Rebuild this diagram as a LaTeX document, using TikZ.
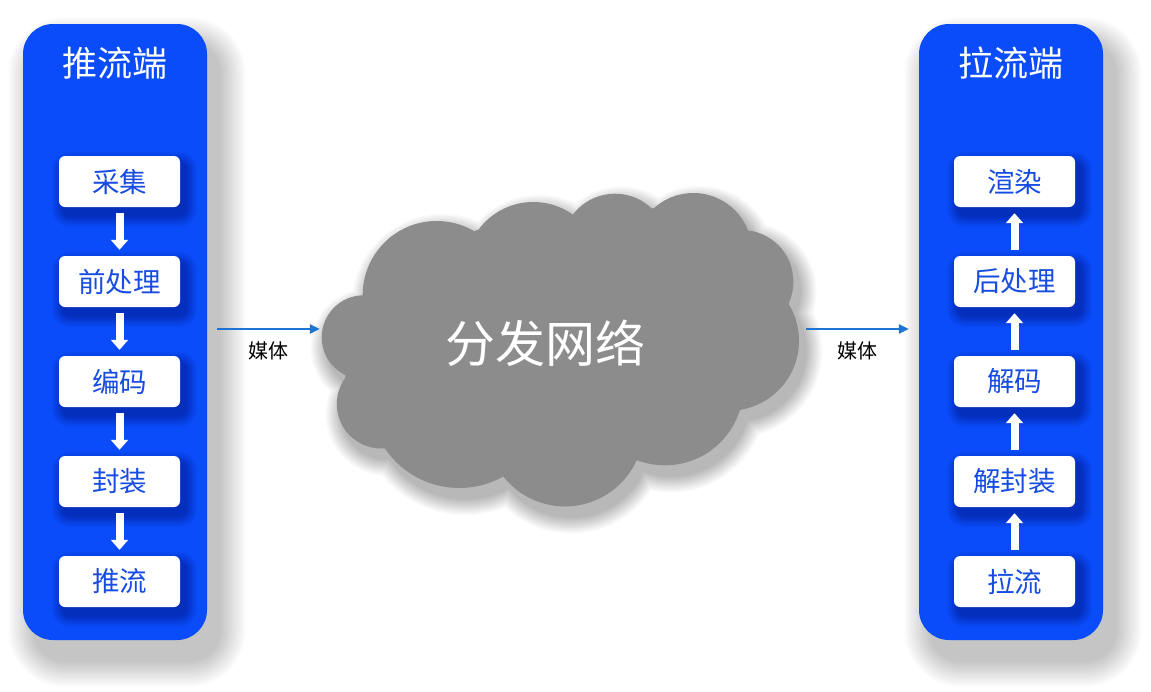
\documentclass[tikz,border=0pt]{standalone}
\usepackage{fontspec}
\newfontfamily\cjk{Noto Sans CJK SC}
\usetikzlibrary{arrows.meta}
\definecolor{panelblue}{RGB}{10,76,250}
\definecolor{boxtext}{RGB}{22,76,226}
\definecolor{shblue}{RGB}{0,22,140}
\definecolor{cloudgray}{RGB}{140,140,140}
\definecolor{mediablue}{RGB}{28,116,212}
\begin{document}
\begin{tikzpicture}[x=1pt,y=-1pt,
  panel/.style={rectangle, rounded corners=30pt, fill=panelblue, minimum width=184pt, minimum height=616pt, inner sep=0pt},
  stepbox/.style={rectangle, rounded corners=6pt, fill=white, minimum width=121pt, minimum height=51pt, inner sep=0pt, font=\cjk\fontsize{27.5}{30}\selectfont, text=boxtext},
  paneltitle/.style={font=\cjk\fontsize{35}{38}\selectfont, text=white},
  flow/.style={white, line width=8pt, -{Triangle[width=17pt,length=10pt]}},
  media/.style={mediablue, line width=2.6pt, -{Triangle[width=9pt,length=10pt]}},
  medialabel/.style={font=\cjk\fontsize{20}{22}\selectfont, text=black},
  cloudlabel/.style={font=\cjk\fontsize{50}{54}\selectfont, text=white}
]
\useasboundingbox (0,0) rectangle (1151,691);
\fill[white] (0,0) rectangle (1151,691);

% panel shadows
\foreach \px in {23,919}{
  \foreach \k in {12,...,1}{
    \pgfmathsetmacro\e{2.2*\k}
    \pgfmathsetmacro\c{1.9*(13-\k)}
    \fill[black!\c, rounded corners={(30+\e)*1pt}] (\px-\e+12, 24-\e+20) rectangle (\px+184+\e+12, 640+\e+20);
  }
}

% panels
\node[panel] (push) at (115,332) {};
\node[panel] (pull) at (1011,332) {};
\node[paneltitle] (pushtitle) at (115,63) {推流端};
\node[paneltitle] (pulltitle) at (1011,63) {拉流端};

% box shadows
\foreach \bx in {119.5,1014.5}{
  \foreach \by in {181.5,281.5,381.5,481.5,581.5}{
    \foreach \k in {7,...,1}{
      \pgfmathsetmacro\e{1.7*\k}
      \pgfmathsetmacro\c{8*(8-\k)}
      \fill[shblue!\c!panelblue, rounded corners={(6+\e)*1pt}] (\bx-60.5-\e+5, \by-25.5-\e+8) rectangle (\bx+60.5+\e+5, \by+25.5+\e+8);
    }
  }
}

% left boxes
\node[stepbox] (p1) at (119.5,181.5) {采集};
\node[stepbox] (p2) at (119.5,281.5) {前处理};
\node[stepbox] (p3) at (119.5,381.5) {编码};
\node[stepbox] (p4) at (119.5,481.5) {封装};
\node[stepbox] (p5) at (119.5,581.5) {推流};
% right boxes
\node[stepbox] (q5) at (1014.5,181.5) {渲染};
\node[stepbox] (q4) at (1014.5,281.5) {后处理};
\node[stepbox] (q3) at (1014.5,381.5) {解码};
\node[stepbox] (q2) at (1014.5,481.5) {解封装};
\node[stepbox] (q1) at (1014.5,581.5) {拉流};

% flow arrows
\draw[flow] ([yshift=-6pt]p1.south) -- ([yshift=6pt]p2.north);
\draw[flow] ([yshift=-6pt]p2.south) -- ([yshift=6pt]p3.north);
\draw[flow] ([yshift=-6pt]p3.south) -- ([yshift=6pt]p4.north);
\draw[flow] ([yshift=-6pt]p4.south) -- ([yshift=6pt]p5.north);
\draw[flow] ([yshift=6pt]q1.north) -- ([yshift=-6pt]q2.south);
\draw[flow] ([yshift=6pt]q2.north) -- ([yshift=-6pt]q3.south);
\draw[flow] ([yshift=6pt]q3.north) -- ([yshift=-6pt]q4.south);
\draw[flow] ([yshift=6pt]q4.north) -- ([yshift=-6pt]q5.south);

% cloud
\def\puffs{363.7/337.3/42, 436.7/295/74, 533.3/270/68, 615/246.7/53, 693.3/251.7/58.7, 741.7/281.7/51.7, 729/340.7/70, 665/387/78.3, 565/427.7/78.7, 459.3/398.3/89.7, 381.3/404/44.5}
\foreach \k in {10,...,1}{
  \pgfmathsetmacro\e{1.7*\k}
  \pgfmathsetmacro\c{2.8*(11-\k)}
  \fill[black!\c, shift={(6,10)}] foreach \cx/\cy/\r in \puffs {(\cx,\cy) circle[radius=\r+\e]};
}
\fill[cloudgray] foreach \cx/\cy/\r in \puffs {(\cx,\cy) circle[radius=\r]};
\fill[cloudgray] (365,298.3) -- (476.7,230) -- (573.3,215) -- (653.3,208.3) -- (748.3,231.7) -- (788.3,303.3) -- (740,410) -- (636.7,460) -- (503.3,476.7) -- (385,448.3) -- (345,378.3) -- cycle;
\node[minimum width=482pt, minimum height=300pt, inner sep=0pt] (cloud) at (563,329) {};
\node[cloudlabel] (cloudtext) at (545,343) {分发网络};

% media arrows
\draw[media] ([xshift=10pt,yshift=3pt]push.east) -- node[medialabel, midway, yshift=-22pt] {媒体} ([xshift=-2pt]cloud.west);
\draw[media] ([xshift=2pt]cloud.east) -- node[medialabel, midway, yshift=-22pt] {媒体} ([xshift=-10pt,yshift=3pt]pull.west);
\end{tikzpicture}
\end{document}
